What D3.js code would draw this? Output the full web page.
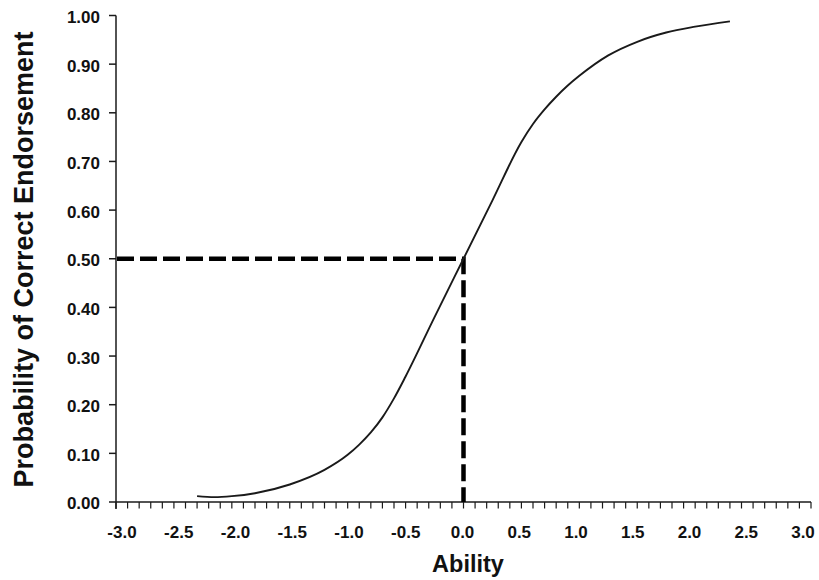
<!DOCTYPE html>
<html><head><meta charset="utf-8">
<script src="https://cdn.jsdelivr.net/npm/d3@7/dist/d3.min.js"></script>
<style>body{margin:0;background:#fff}svg{display:block}text{font-family:"Liberation Sans",Arial,sans-serif;font-weight:bold;fill:#111}</style>
</head><body><svg id="c" width="819" height="580"></svg>
<script>
const abilityValues = [-2.3,-2.15,-2.0,-1.8,-1.5,-1.2,-1.0,-0.9,-0.8,-0.7,-0.6,-0.5,-0.25,0.0,0.25,0.5,0.6,0.7,0.8,0.9,1.0,1.25,1.5,1.75,2.0,2.3];
const probValues   = [0.012,0.010,0.012,0.018,0.036,0.066,0.097,0.118,0.143,0.174,0.213,0.258,0.380,0.500,0.620,0.740,0.777,0.807,0.833,0.856,0.876,0.918,0.946,0.965,0.977,0.988];
const xTickLabels = ["-3.0","-2.5","-2.0","-1.5","-1.0","-0.5","0.0","0.5","1.0","1.5","2.0","2.5","3.0"];
const yTickLabels = ["0.00","0.10","0.20","0.30","0.40","0.50","0.60","0.70","0.80","0.90","1.00"];
const refAbility = [0.0];
const refProb = [0.5];

const svg = d3.select("#c");
const x = d3.scaleLinear().domain([-3,3]).range([116,811]);
const xl = d3.scaleLinear().domain([-3,3]).range([122,803]);
const y = d3.scaleLinear().domain([0,1]).range([502,15.5]);
const ink = "#1a1a1a";

// x axis
const xMinor = d3.range(-30,31).map(i=>i/10);
const gx = svg.append("g");
gx.append("line").attr("x1",x(-3)).attr("x2",x(3)).attr("y1",y(0)).attr("y2",y(0)).attr("stroke",ink).attr("stroke-width",1.5);
gx.selectAll("line.t").data(xMinor).join("line").attr("class","t")
  .attr("x1",d=>x(d)).attr("x2",d=>x(d)).attr("y1",y(0)).attr("y2",y(0)+6.5)
  .attr("stroke",ink).attr("stroke-width",1.2);
gx.selectAll("text").data(xTickLabels).join("text")
  .attr("x",d=>xl(+d)).attr("y",538).attr("text-anchor","middle")
  .attr("font-size",17).text(d=>d);

// y axis
const gy = svg.append("g");
gy.append("line").attr("x1",x(-3)).attr("x2",x(-3)).attr("y1",y(1)).attr("y2",y(0)+7).attr("stroke",ink).attr("stroke-width",1.5);
gy.selectAll("line.t").data(yTickLabels).join("line").attr("class","t")
  .attr("x1",x(-3)-7).attr("x2",x(-3)).attr("y1",d=>y(+d)).attr("y2",d=>y(+d))
  .attr("stroke",ink).attr("stroke-width",1.5);
gy.selectAll("text").data(yTickLabels).join("text")
  .attr("x",100).attr("y",d=>y(+d)+3).attr("text-anchor","end").attr("dominant-baseline","middle")
  .attr("font-size",17).text(d=>d);

// reference dashed lines
svg.append("path")
  .attr("d",`M${x(-3)+1},${y(refProb[0])}H${x(refAbility[0])}V${y(0)}`)
  .attr("fill","none").attr("stroke","#000").attr("stroke-width",4.5).attr("stroke-dasharray","17,6");

// curve
const line = d3.line().x((d,i)=>x(abilityValues[i])).y(d=>y(d)).curve(d3.curveMonotoneX);
svg.append("path").attr("d",line(probValues)).attr("fill","none").attr("stroke",ink).attr("stroke-width",1.9);

// axis titles
svg.append("text").attr("x",468).attr("y",572).attr("text-anchor","middle").attr("font-size",23.5).text("Ability");
svg.append("text").attr("transform","translate(33,259.5) rotate(-90)").attr("text-anchor","middle").attr("font-size",27).text("Probability of Correct Endorsement");
</script></body></html>
